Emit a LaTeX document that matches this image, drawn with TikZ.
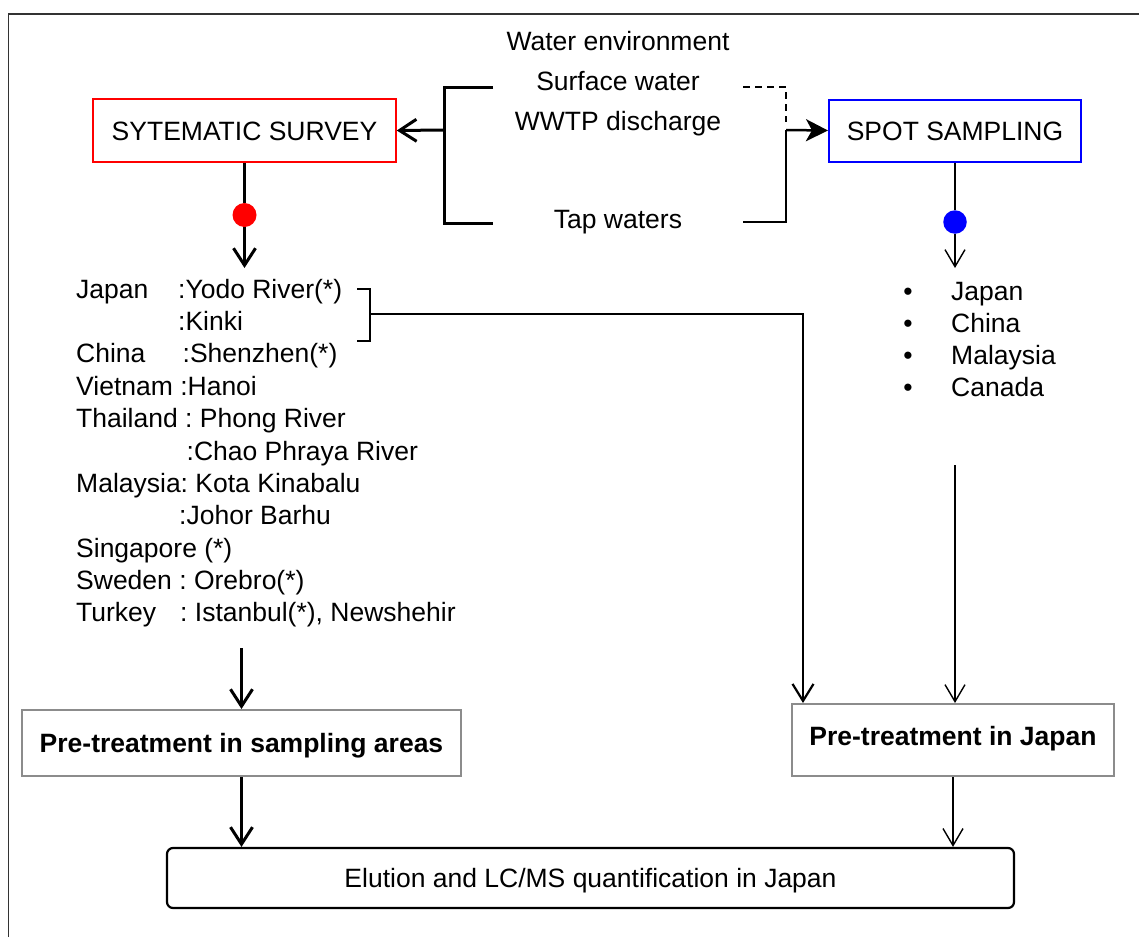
\documentclass[tikz,border=0pt]{standalone}
\usepackage{fontspec}
\setmainfont{Liberation Sans}
\usetikzlibrary{arrows.meta}
\frenchspacing

\tikzset{
  heavyarrow/.style={line width=3pt, -{Straight Barb[length=17pt,width=22pt]}},
  midarrow/.style={line width=2.2pt, -{Straight Barb[length=17pt,width=21pt]}},
  lightarrow/.style={line width=1.4pt, -{Straight Barb[length=17pt,width=20pt]}},
  fillarrow/.style={line width=2.5pt, -{Stealth[length=22pt,width=22pt,inset=6pt]}},
  txt/.style={inner sep=0pt, anchor=base west},
  ctxt/.style={inner sep=0pt, anchor=base},
  boxbase/.style={draw, inner sep=0pt, text height=19pt, text depth=0pt},
  dot/.style={circle, inner sep=0pt, draw=none}
}

\begin{document}
\begin{tikzpicture}[x=1pt, y=-1pt, font=\fontsize{26.5}{32}\selectfont]
\useasboundingbox (0,0) rectangle (1139,937);

% outer frame, open towards the right and the bottom
\draw[line width=1.5pt, black!80] (8.5,937) -- (8.5,14) -- (1139,14);

% survey types
\node[boxbase, draw=red, line width=1.5pt, minimum width=303pt, minimum height=63pt]
  (survey) at (244.5,130.5) {SYTEMATIC SURVEY};
\node[boxbase, draw=blue, line width=2pt, minimum width=252pt, minimum height=62pt]
  (spot) at (955,130.5) {SPOT SAMPLING};

% water types
\node[ctxt] (env)  at (618,50)  {Water environment};
\node[ctxt] (surf) at (618,90)  {Surface water};
\node[ctxt] (wwtp) at (618,130) {WWTP discharge};
\node[ctxt] (tap)  at (618,228) {Tap waters};

% bracket towards the systematic survey
\coordinate (bl1) at (493,87);
\coordinate (blm) at (444,130);
\coordinate (bl2) at (493,223);
\draw[line width=3pt] (bl1) -| (blm) |- (bl2);
\draw[heavyarrow] (blm) -- (survey.east);

% links towards the spot sampling
\coordinate (dr1) at (743,87);
\coordinate (dr2) at (743,222);
\coordinate (rj)  at (786,130);
\draw[line width=1.5pt, dash pattern=on 7pt off 5pt] (dr1) -| (786,122);
\draw[line width=1.8pt] (dr2) -| (rj);
\draw[fillarrow] (rj) -- (spot.west);

% systematic survey branch
\node[dot, fill=red, minimum size=24pt] (rdot) at (244.5,215) {};
\coordinate (ltop) at (244.5,268);
\draw[line width=3pt] (survey.south) -- (rdot);
\draw[heavyarrow] (rdot) -- (ltop);

% spot sampling branch
\node[dot, fill=blue, minimum size=23.5pt] (bdot) at (955,222) {};
\coordinate (rtop) at (955,268);
\draw[line width=1.5pt] (spot.south) -- (bdot);
\draw[lightarrow] (bdot) -- (rtop);

% sites of the systematic survey
\node[txt] (s1)  at (76,298)    {\makebox[102pt][l]{Japan}:Yodo River(*)};
\node[txt] (s2)  at (178,330.5) {:Kinki};
\node[txt] (s3)  at (76,362.5)  {\makebox[106.5pt][l]{China}:Shenzhen(*)};
\node[txt] (s4)  at (76,395)    {Vietnam :Hanoi};
\node[txt] (s5)  at (76,427.5)  {Thailand : Phong River};
\node[txt] (s6)  at (186.5,460) {:Chao Phraya River};
\node[txt] (s7)  at (76,492)    {Malaysia: Kota Kinabalu};
\node[txt] (s8)  at (179,524.5) {:Johor Barhu};
\node[txt] (s9)  at (76,557)    {Singapore (*)};
\node[txt] (s10) at (76,589)    {Sweden : Orebro(*)};
\node[txt] (s11) at (76,621.5)  {\makebox[104pt][l]{Turkey}: Istanbul(*), Newshehir};

% countries of the spot sampling
\foreach \c [count=\i from 0] in {Japan, China, Malaysia, Canada} {
  \node[ctxt] (b\i) at (908,300+32.3*\i) {•};
  \node[txt]  (c\i) at (951,300+32.3*\i) {\c};
}

% pre-treatment and analysis
\node[boxbase, draw=black!45, line width=2pt, minimum width=439pt, minimum height=66pt,
  font=\fontsize{26.5}{32}\selectfont\bfseries]
  (sampling) at (241.5,743) {Pre-treatment in sampling areas};
\node[boxbase, draw=black!45, line width=2pt, minimum width=322pt, minimum height=72pt,
  text height=10pt, font=\fontsize{26.5}{32}\selectfont\bfseries]
  (japan) at (953,740) {Pre-treatment in Japan};
\node[boxbase, draw=black, line width=2.2pt, rounded corners=6pt,
  minimum width=847pt, minimum height=60pt]
  (elution) at (590.5,878) {Elution and LC/MS quantification in Japan};

% bracket on the Japanese sites
\coordinate (k1) at (357,289);
\coordinate (km) at (370,314);
\coordinate (k2) at (357,341);
\draw[line width=2pt] (k1) -| (km) |- (k2);
\draw[midarrow] (km) -| ([xshift=12pt]japan.north west);

% flows down to the pre-treatment and the analysis
\coordinate (rbot) at (955,465);
\coordinate (lbot) at (241.5,648);
\draw[lightarrow] (rbot) -- (rbot |- japan.north);
\draw[heavyarrow] (lbot) -- (sampling.north);
\draw[heavyarrow] (sampling.south) -- (sampling.south |- elution.north);
\draw[lightarrow] (japan.south) -- (japan.south |- elution.north);
\end{tikzpicture}
\end{document}
